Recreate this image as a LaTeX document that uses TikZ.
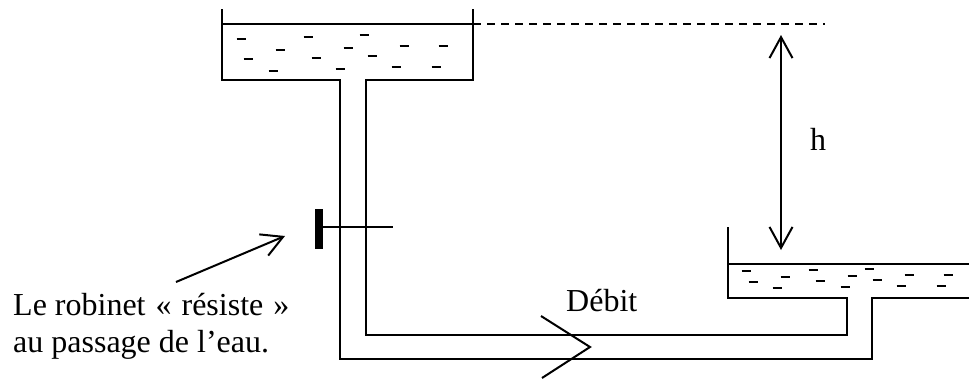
\documentclass[tikz,border=0pt]{standalone}
\usepackage{fontspec}
\setmainfont{Liberation Serif}
\usetikzlibrary{arrows.meta}
\tikzset{
  >={Straight Barb[length=21pt,width=23pt,line width=2pt]},
  wall/.style={line width=2.4pt},
  label/.style={inner sep=0pt, anchor=base west, align=left, font=\fontsize{32}{37}\selectfont}
}
\begin{document}
\begin{tikzpicture}[x=1pt, y=-1pt]
    \useasboundingbox (0, 0) rectangle (969, 378);

    % reservoirs and pipe
    \coordinate (t1) at (222, 9);
    \coordinate (t2) at (473, 9);
    \coordinate (t3) at (222, 24);
    \coordinate (t4) at (473, 24);
    \coordinate (d1) at (825, 24);
    \coordinate (b1) at (728, 227);
    \coordinate (b2) at (728, 264);
    \coordinate (b3) at (969, 264);

    \draw[wall] (t1) -- (222, 80) -- (340, 80) -- (340, 359) -- (872, 359) -- (872, 298) -- (969, 298);
    \draw[wall] (t2) -- (473, 80) -- (366, 80) -- (366, 335) -- (847, 335) -- (847, 298) -- (728, 298) -- (b1);
    \draw[wall] (t3) -- (t4);
    \draw[wall] (b2) -- (b3);
    \draw[wall, dash pattern=on 8pt off 6pt] (t4) -- (d1);

    % water
    \foreach \x/\y in {241/39, 308/37, 364/35, 280/50, 348/48, 404/46, 443/46, 248/59, 316/58, 372/56, 273/71, 340/69, 396/67, 436/67,
                       746/271, 813/270, 869/269, 785/277, 852/276, 909/275, 948/275, 753/282, 820/281, 877/280, 777/288, 845/287, 901/286, 941/286}
        \draw[wall] (\x-4.5, \y) -- (\x+4.5, \y);

    % valve
    \coordinate (v1) at (319, 209);
    \coordinate (v2) at (319, 249);
    \coordinate (v3) at (319, 227);
    \coordinate (v4) at (393, 227);
    \draw[line width=8pt] (v1) -- (v2);
    \draw[line width=2pt] (v3) -- (v4);

    % labels
    \draw (13, 315) node[label](l1){Le robinet\hspace{2pt} «\hspace{2pt} résiste\hspace{2pt} »}
          (13, 352) node[label](l2){au passage de l’eau.}
          (566, 311) node[label](l3){Débit}
          (810, 150) node[label](l4){h};

    % arrows
    \coordinate (a1) at (176, 282);
    \coordinate (a2) at (285, 236);
    \coordinate (h1) at (781, 35);
    \coordinate (h2) at (781, 250);
    \coordinate (c1) at (541, 316);
    \coordinate (c2) at (590, 347);
    \coordinate (c3) at (542, 378);

    \draw[line width=2pt, ->] (a1) -- (a2);
    \draw[line width=2pt, <->] (h1) -- (h2);
    \draw[line width=2pt] (c1) -- (c2) -- (c3);
\end{tikzpicture}
\end{document}
